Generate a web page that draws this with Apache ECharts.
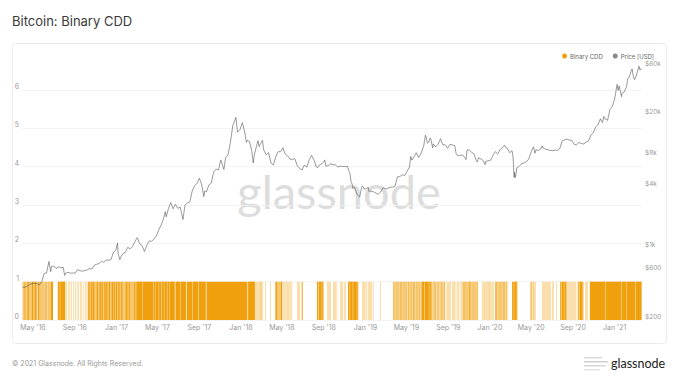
<!DOCTYPE html>
<html><head><meta charset="utf-8">
<script src="https://cdn.jsdelivr.net/npm/echarts@6/dist/echarts.min.js"></script>
<style>html,body{margin:0;padding:0;background:#fff}#c{width:679px;height:382px}</style>
</head><body><div id="c"></div>
<script>
const titleText = 'Bitcoin: Binary CDD';
const footerText = '© 2021 Glassnode. All Rights Reserved.';
const watermarkText = 'glassnode';
const seriesNames = ['Binary CDD', 'Price [USD]'];

// Binary CDD: one string per month, one character per day (1 = CDD above threshold)
const cddMonths = ['2016-04','2016-05','2016-06','2016-07','2016-08','2016-09','2016-10','2016-11','2016-12',
  '2017-01','2017-02','2017-03','2017-04','2017-05','2017-06','2017-07','2017-08','2017-09','2017-10','2017-11','2017-12',
  '2018-01','2018-02','2018-03','2018-04','2018-05','2018-06','2018-07','2018-08','2018-09','2018-10','2018-11','2018-12',
  '2019-01','2019-02','2019-03','2019-04','2019-05','2019-06','2019-07','2019-08','2019-09','2019-10','2019-11','2019-12',
  '2020-01','2020-02','2020-03','2020-04','2020-05','2020-06','2020-07','2020-08','2020-09','2020-10','2020-11','2020-12',
  '2021-01','2021-02','2021-03'];
const cddBits = [
  '110111011010111011101101110111',
  '1101101110110101110110111011010',
  '110101101101011010110111111100',
  '0000000000001111110111111111111',
  '1110001000010000100010000010000',
  '010000100010000010001000001000',
  '0100010011101111011101111101110',
  '111011110111011111011101111011',
  '1110111101111011101111101110111',
  '1101111011101111011101101110111',
  '1101101110110111011011101101',
  '1111111111111111011111111111111',
  '111111111111111111101111101111',
  '1111011111110111111011111111011',
  '111110111111111111110011111111',
  '1111111011111111111111100111111',
  '1111111111101111111111111111011',
  '111111111111111111100111111111',
  '1111111111111111111111111111111',
  '111111111111111111111111111111',
  '1111111111111111111111111111111',
  '1111111111111111111001111111111',
  '1111111111010010100100100101',
  '0100100000001000000000000001000',
  '000000000011011101101110110111',
  '1001001001000100100100010010010',
  '000000000000001000100100010001',
  '1000000000000000000000000000000',
  '0000000000011110111111111011110',
  '000000000010010010010000000010',
  '0100100010000000001000100100010',
  '001000000011111011111111011111',
  '1111110111000000000001001001000',
  '0100100010010001001000100000000',
  '0000000000000100000000000000',
  '0000000000000000000000110101101',
  '101101011010110110101101011010',
  '1101011010110101101011011010110',
  '101101011010110111111011111111',
  '1111101111101101010110101101010',
  '1011010101101011010110001000100',
  '100100010001000100100010001000',
  '1000100010001110110101101101101',
  '110110101101101011011010110000',
  '0000000010010010010001001001001',
  '1001001001000001101101011011010',
  '11011010110110101101000000000',
  '0000011111011111111010000000000',
  '000000000000000000000000000101',
  '1010010100101000000000000000000',
  '010010010010001001001001001000',
  '1001000000000100000000001111011',
  '1111011111101100100100100010010',
  '010010010001000111101111110111',
  '0000010010010000000111111111111',
  '111111111111111111111111111111',
  '1110111111111111111111111111111',
  '1111111111111111111101111111111',
  '1111011111111111111111111111',
  '10111111111111111111'
];

// Bitcoin price (USD)
const priceUsd = [
  ['2016-04-01',417],['2016-04-08',420],['2016-04-15',430],['2016-04-22',448],['2016-04-29',455],['2016-05-06',459],
  ['2016-05-13',455],['2016-05-20',442],['2016-05-27',473],['2016-06-03',570],['2016-06-10',578],['2016-06-17',748],
  ['2016-06-22',595],['2016-06-24',665],['2016-07-01',676],['2016-07-08',640],['2016-07-15',663],['2016-07-22',651],
  ['2016-07-29',655],['2016-08-02',547],['2016-08-05',575],['2016-08-12',587],['2016-08-19',575],['2016-08-26',577],
  ['2016-09-02',575],['2016-09-09',622],['2016-09-16',606],['2016-09-23',602],['2016-09-30',609],['2016-10-07',618],
  ['2016-10-14',638],['2016-10-21',632],['2016-10-28',688],['2016-11-04',703],['2016-11-11',715],['2016-11-18',751],
  ['2016-11-25',735],['2016-12-02',772],['2016-12-09',770],['2016-12-16',781],['2016-12-23',921],['2016-12-30',961],
  ['2017-01-04',1135],['2017-01-06',886],['2017-01-11',780],['2017-01-13',822],['2017-01-20',894],['2017-01-27',918],
  ['2017-02-03',1030],['2017-02-10',996],['2017-02-17',1049],['2017-02-24',1172],['2017-03-03',1283],['2017-03-10',1116],
  ['2017-03-17',1070],['2017-03-24',937],['2017-03-31',1080],['2017-04-07',1190],['2017-04-14',1180],['2017-04-21',1240],
  ['2017-04-28',1330],['2017-05-05',1530],['2017-05-12',1700],['2017-05-19',1960],['2017-05-24',2300],['2017-05-27',2050],
  ['2017-06-02',2450],['2017-06-09',2820],['2017-06-16',2460],['2017-06-23',2720],['2017-06-30',2480],['2017-07-07',2550],
  ['2017-07-15',1930],['2017-07-21',2670],['2017-07-28',2800],['2017-08-04',2860],['2017-08-11',3650],['2017-08-18',4110],
  ['2017-08-25',4350],['2017-09-01',4890],['2017-09-08',4230],['2017-09-14',3230],['2017-09-17',3680],['2017-09-22',3600],
  ['2017-09-29',4200],['2017-10-06',4370],['2017-10-13',5640],['2017-10-20',6010],['2017-10-27',5900],['2017-11-03',7400],
  ['2017-11-12',5950],['2017-11-17',7790],['2017-11-24',8250],['2017-12-01',10900],['2017-12-08',16000],['2017-12-12',17300],
  ['2017-12-17',19300],['2017-12-22',13800],['2017-12-29',14600],
  ['2018-01-05',17100],['2018-01-12',13900],['2018-01-17',11000],['2018-01-19',11500],['2018-01-26',11200],['2018-02-02',8900],
  ['2018-02-06',6900],['2018-02-09',8200],['2018-02-16',10200],['2018-02-20',11400],['2018-02-23',10000],['2018-03-02',11000],
  ['2018-03-05',11500],['2018-03-09',9200],['2018-03-16',8300],['2018-03-23',8700],['2018-03-30',6900],['2018-04-06',6600],
  ['2018-04-13',7900],['2018-04-20',8900],['2018-04-27',8900],['2018-05-04',9700],['2018-05-11',8400],['2018-05-18',8100],
  ['2018-05-25',7500],['2018-06-01',7500],['2018-06-08',7600],['2018-06-15',6500],['2018-06-22',6100],['2018-06-29',5900],
  ['2018-07-06',6600],['2018-07-13',6250],['2018-07-20',7400],['2018-07-27',8200],['2018-08-03',7400],['2018-08-10',6300],
  ['2018-08-14',6200],['2018-08-17',6500],['2018-08-24',6700],['2018-08-31',7000],['2018-09-04',7400],['2018-09-07',6400],
  ['2018-09-14',6500],['2018-09-21',6750],['2018-09-28',6650],['2018-10-05',6600],['2018-10-12',6300],['2018-10-19',6400],
  ['2018-10-26',6400],['2018-11-02',6350],['2018-11-09',6400],['2018-11-14',5700],['2018-11-16',5600],['2018-11-20',4500],
  ['2018-11-23',4300],['2018-11-25',3900],['2018-11-30',4000],['2018-12-07',3400],['2018-12-15',3200],['2018-12-21',4000],
  ['2018-12-24',4100],['2018-12-28',3850],
  ['2019-01-04',3850],['2019-01-09',4000],['2019-01-11',3650],['2019-01-18',3650],['2019-01-25',3600],['2019-02-01',3500],
  ['2019-02-07',3400],['2019-02-15',3600],['2019-02-22',3950],['2019-03-01',3850],['2019-03-08',3900],['2019-03-15',4000],
  ['2019-03-22',4000],['2019-03-29',4100],['2019-04-05',5050],['2019-04-12',5070],['2019-04-19',5300],['2019-04-26',5200],
  ['2019-05-03',5700],['2019-05-10',6300],['2019-05-14',8000],['2019-05-17',7350],['2019-05-24',8000],['2019-05-30',8700],
  ['2019-06-06',7800],['2019-06-14',8700],['2019-06-21',10200],['2019-06-26',12900],['2019-06-28',12400],['2019-07-02',10800],
  ['2019-07-05',11000],['2019-07-10',12100],['2019-07-12',11800],['2019-07-17',9700],['2019-07-19',10600],['2019-07-26',9900],
  ['2019-08-02',10500],['2019-08-09',11900],['2019-08-16',10350],['2019-08-23',10400],['2019-08-30',9600],['2019-09-06',10500],
  ['2019-09-13',10350],['2019-09-20',10200],['2019-09-24',8500],['2019-09-27',8200],['2019-10-04',8150],['2019-10-11',8300],
  ['2019-10-18',7950],['2019-10-23',7450],['2019-10-26',9250],['2019-11-01',9250],['2019-11-08',8800],['2019-11-15',8500],
  ['2019-11-22',7300],['2019-11-25',7050],['2019-11-29',7750],['2019-12-06',7550],['2019-12-13',7250],['2019-12-18',6650],
  ['2019-12-20',7150],['2019-12-27',7250],
  ['2020-01-03',7350],['2020-01-10',8200],['2020-01-17',8900],['2020-01-24',8450],['2020-01-31',9350],['2020-02-07',9800],
  ['2020-02-13',10300],['2020-02-17',9700],['2020-02-21',9650],['2020-02-28',8700],['2020-03-06',9100],['2020-03-09',7900],
  ['2020-03-12',4950],['2020-03-13',5600],['2020-03-16',5000],['2020-03-20',6200],['2020-03-27',6400],['2020-04-03',6800],
  ['2020-04-10',6900],['2020-04-17',7100],['2020-04-24',7550],['2020-05-01',8850],['2020-05-08',9950],['2020-05-12',8600],
  ['2020-05-15',9300],['2020-05-22',9150],['2020-05-29',9450],['2020-06-02',10150],['2020-06-05',9650],['2020-06-12',9450],
  ['2020-06-19',9300],['2020-06-26',9150],['2020-07-03',9100],['2020-07-10',9250],['2020-07-17',9150],['2020-07-24',9550],
  ['2020-07-31',11350],['2020-08-07',11600],['2020-08-14',11800],['2020-08-21',11550],['2020-08-28',11500],['2020-09-04',10500],
  ['2020-09-11',10400],['2020-09-18',10950],['2020-09-25',10700],['2020-10-02',10600],['2020-10-09',11050],['2020-10-16',11300],
  ['2020-10-23',12950],['2020-10-30',13550],['2020-11-06',15550],['2020-11-13',16300],['2020-11-20',18700],['2020-11-26',17150],
  ['2020-11-30',19700],['2020-12-04',18650],['2020-12-11',18050],['2020-12-18',23150],['2020-12-25',24700],
  ['2021-01-01',29400],['2021-01-08',40600],['2021-01-11',35500],['2021-01-14',39200],['2021-01-21',30800],['2021-01-22',33000],
  ['2021-01-29',34300],['2021-02-05',38900],['2021-02-08',46400],['2021-02-12',47200],['2021-02-19',55900],['2021-02-21',57500],
  ['2021-02-24',49700],['2021-02-28',45200],['2021-03-05',48900],['2021-03-09',54900],['2021-03-13',61200],['2021-03-16',56000],
  ['2021-03-20',58300]
];

const leftAxisMax = 6.83;
const priceAxisMin = 200;
const priceAxisMax = 73600;
const priceTicks = [200, 600, 1000, 4000, 8000, 20000, 60000];
const priceTickLabels = ['$200', '$600', '$1k', '$4k', '$8k', '$20k', '$60k'];
const xAxisStart = '2016-03-30';
const xAxisEnd = '2021-03-22';
const xTickDates = ['2016-05-01','2016-09-01','2017-01-01','2017-05-01','2017-09-01','2018-01-01','2018-05-01','2018-09-01',
  '2019-01-01','2019-05-01','2019-09-01','2020-01-01','2020-05-01','2020-09-01','2021-01-01'];
const xTickLabels = ["May '16","Sep '16","Jan '17","May '17","Sep '17","Jan '18","May '18","Sep '18",
  "Jan '19","May '19","Sep '19","Jan '20","May '20","Sep '20","Jan '21"];

const CDD_COLOR = '#F0A00C';
const DAY = 86400000;
function utc(s) { const p = s.split('-').map(Number); return Date.UTC(p[0], p[1] - 1, p[2] || 1); }

// merge consecutive "1" days into runs [start, end, 1]
const cddRuns = [];
cddMonths.forEach((m, i) => {
  const [y, mo] = m.split('-').map(Number);
  const n = new Date(Date.UTC(y, mo, 0)).getUTCDate();
  const bits = cddBits[i];
  for (let d = 0; d < Math.min(n, bits.length); d++) {
    if (bits[d] === '1') {
      const t = Date.UTC(y, mo - 1, d + 1);
      const last = cddRuns[cddRuns.length - 1];
      if (last && last[1] === t) last[1] = t + DAY; else cddRuns.push([t, t + DAY, 1]);
    }
  }
});
const xTickValues = xTickDates.map(utc);

const chart = echarts.init(document.getElementById('c'), null, { renderer: 'svg' });
chart.setOption({
  animation: false,
  backgroundColor: '#fff',
  textStyle: { fontFamily: 'Inter' },
  title: { text: titleText, left: 12, top: 14, padding: 0,
    textStyle: { fontSize: 13, fontWeight: 'normal', color: '#3a3a3a', fontFamily: 'Inter' } },
  legend: { right: 20, top: 48, itemWidth: 5, itemHeight: 5, itemGap: 10, icon: 'circle',
    data: seriesNames, textStyle: { fontSize: 6, color: '#666', padding: [0, 0, 0, -2] } },
  grid: { left: 22, right: 37, top: 58, bottom: 62, containLabel: false },
  xAxis: { type: 'value', min: utc(xAxisStart), max: utc(xAxisEnd), scale: true,
    axisLine: { show: false }, axisTick: { show: false }, splitLine: { show: false },
    axisLabel: { customValues: xTickValues, hideOverlap: false, color: '#999', fontSize: 7, margin: 4,
      showMinLabel: true, showMaxLabel: true,
      formatter: v => { const i = xTickValues.indexOf(v); return i >= 0 ? xTickLabels[i] : ''; } } },
  yAxis: [
    { type: 'value', min: 0, max: leftAxisMax, interval: 1, position: 'left',
      axisLine: { show: false }, axisTick: { show: false },
      axisLabel: { color: '#999', fontSize: 7, margin: 3, verticalAlign: 'bottom', showMaxLabel: false,
        formatter: v => Number.isInteger(v) ? String(v) : '' },
      splitLine: { showMaxLine: false, lineStyle: { width: 0.8,
        color: ['#f1f1f1','#f1f1f1','#f1f1f1','#f1f1f1','#f1f1f1','#f1f1f1','#f1f1f1','rgba(0,0,0,0)'] } } },
    { type: 'log', logBase: 10, min: priceAxisMin, max: priceAxisMax, position: 'right',
      axisLine: { show: false }, axisTick: { show: false }, axisLabel: { show: false }, splitLine: { show: false } }
  ],
  graphic: [
    { type: 'rect', z: -10, shape: { x: 12.5, y: 43.5, width: 654, height: 300, r: 3 },
      style: { fill: '#fff', stroke: '#ececec', lineWidth: 1 } },
    { type: 'text', z: -5, x: 339, y: 191,
      style: { text: watermarkText, fontSize: 47, fontFamily: 'Lato', fill: '#dddddd', align: 'center', verticalAlign: 'middle' } },
    { type: 'text', x: 12, y: 363,
      style: { text: footerText, fontSize: 7, fontFamily: 'Inter', fill: '#999', verticalAlign: 'middle' } },
    { type: 'rect', shape: { x: 584, y: 357, width: 18, height: 1.5 }, style: { fill: '#d8d8d8' } },
    { type: 'rect', shape: { x: 584, y: 361, width: 24, height: 1.5 }, style: { fill: '#cfcfcf' } },
    { type: 'rect', shape: { x: 584, y: 365, width: 22, height: 1.5 }, style: { fill: '#d8d8d8' } },
    { type: 'rect', shape: { x: 584, y: 369, width: 16, height: 1.5 }, style: { fill: '#e2e2e2' } },
    { type: 'text', x: 611, y: 363,
      style: { text: watermarkText, fontSize: 12.5, fontFamily: 'Lato', fill: '#222', verticalAlign: 'middle' } }
  ],
  series: [
    { type: 'custom', name: seriesNames[0], xAxisIndex: 0, yAxisIndex: 0, data: cddRuns,
      encode: { x: [0, 1], y: 2 }, clip: true, silent: true, z: 2,
      itemStyle: { color: CDD_COLOR },
      renderItem: (params, api) => {
        const a = api.coord([api.value(0), api.value(2)]);
        const b = api.coord([api.value(1), 0]);
        return { type: 'rect', shape: { x: a[0], y: a[1], width: b[0] - a[0], height: b[1] - a[1] },
          style: { fill: CDD_COLOR } };
      } },
    { type: 'line', name: seriesNames[1], xAxisIndex: 0, yAxisIndex: 1,
      data: priceUsd.map(p => [utc(p[0]), p[1]]), showSymbol: false, symbol: 'none', z: 3,
      itemStyle: { color: '#888' }, lineStyle: { color: '#555', width: 0.6 },
      markLine: { silent: true, symbol: 'none', lineStyle: { color: 'rgba(0,0,0,0)', width: 0 },
        label: { position: 'end', distance: 3, color: '#999', fontSize: 6.5, verticalAlign: 'bottom',
          formatter: p => priceTickLabels[priceTicks.indexOf(p.value)] },
        data: priceTicks.map(v => ({ yAxis: v })) } }
  ]
});
</script></body></html>
